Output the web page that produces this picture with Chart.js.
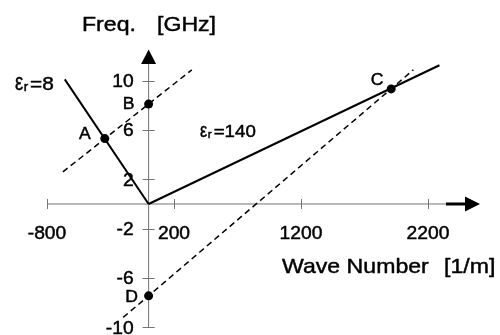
<!DOCTYPE html>
<html>
<head>
<meta charset="utf-8">
<script src="https://cdn.jsdelivr.net/npm/chart.js@4"></script>
<style>
  body { margin: 0; background: #fff; }
  #wrap { width: 500px; height: 335px; }
</style>
</head>
<body>
<div id="wrap"><canvas id="myChart"></canvas></div>
<script>
// values (wave number [1/m], frequency [GHz])
const er8K = [-660, 0];
const er8F = [10.1, 0];
const er140K = [0, 2290];
const er140F = [0, 11.25];
const lineAB_K = [-675, 340];
const lineAB_F = [2.6, 10.88];
const lineDC_K = [-200, 2085];
const lineDC_F = [-9.2, 10.88];
const pointNames = ['A', 'B', 'C', 'D'];
const pointK = [-345, 0, 1910, 0];
const pointF = [5.3, 8.1, 9.33, -7.45];
const xTicks = [-800, 200, 1200, 2200];
const yTicks = [10, 6, 2, -2, -6, -10];

const FONT = 'Arial, "Liberation Sans", sans-serif';
const AXIS = '#747474';
const SX = 1.1; // the original text looks a bit stretched sideways

const toXY = (xs, ys) => xs.map((x, i) => ({x: x, y: ys[i]}));

function text(ctx, str, x, y, size, align, sx) {
  ctx.save();
  ctx.font = size + 'px ' + FONT;
  ctx.textAlign = align || 'left';
  ctx.textBaseline = 'alphabetic';
  ctx.translate(x, y);
  ctx.scale(sx || SX, 1);
  ctx.lineWidth = 0.45;
  ctx.strokeStyle = '#000';
  ctx.fillText(str, 0, 0);
  ctx.strokeText(str, 0, 0);
  ctx.restore();
}

// tall narrow epsilon with a small r, then the rest
function epsLabel(ctx, x, y, rest, size) {
  const es = Math.round(size * 1.2), rs = Math.round(size * 0.65);
  ctx.save();
  ctx.font = es + 'px ' + FONT;
  const we = ctx.measureText('\u03b5').width * 0.8;
  ctx.font = rs + 'px ' + FONT;
  const wr = ctx.measureText('r').width * SX;
  ctx.restore();
  text(ctx, '\u03b5', x, y, es, 'left', 0.8);
  text(ctx, 'r', x + we + 0.5, y + 1, rs);
  text(ctx, rest, x + we + wr + 2.5, y, size);
}

const axesPlugin = {
  id: 'crossAxes',
  beforeDatasetsDraw(chart) {
    const ctx = chart.ctx;
    const xs = chart.scales.x, ys = chart.scales.y;
    const x0 = xs.getPixelForValue(0), y0 = ys.getPixelForValue(0);
    const left = xs.getPixelForValue(-800);
    const bottom = ys.getPixelForValue(-10);
    ctx.save();
    ctx.strokeStyle = AXIS;
    ctx.lineWidth = 1;
    ctx.beginPath();
    ctx.moveTo(left, y0); ctx.lineTo(446, y0);
    ctx.moveTo(x0, bottom); ctx.lineTo(x0, 64);
    xTicks.forEach(v => {
      const px = Math.round(xs.getPixelForValue(v)) + 0.5;
      ctx.moveTo(px, y0 - 5); ctx.lineTo(px, y0 + 5);
    });
    yTicks.forEach(v => {
      const py = Math.round(ys.getPixelForValue(v)) + 0.5;
      ctx.moveTo(x0 - 6, py); ctx.lineTo(x0 + 6, py);
    });
    ctx.stroke();
    // arrows
    ctx.fillStyle = '#000';
    ctx.strokeStyle = '#000';
    ctx.lineWidth = 3;
    ctx.beginPath();
    ctx.moveTo(446, y0); ctx.lineTo(466, y0);
    ctx.stroke();
    ctx.beginPath();
    ctx.moveTo(465, y0 - 7.5); ctx.lineTo(480, y0); ctx.lineTo(465, y0 + 7.5);
    ctx.closePath(); ctx.fill();
    ctx.beginPath();
    ctx.moveTo(x0 - 7.5, 64); ctx.lineTo(x0, 49.5); ctx.lineTo(x0 + 7.5, 64);
    ctx.closePath(); ctx.fill();
    ctx.restore();
  },
  afterDatasetsDraw(chart) {
    const ctx = chart.ctx;
    const xs = chart.scales.x, ys = chart.scales.y;
    const x0 = xs.getPixelForValue(0), y0 = ys.getPixelForValue(0);
    ctx.save();
    ctx.fillStyle = '#000';
    xTicks.forEach(v => {
      text(ctx, String(v), xs.getPixelForValue(v), y0 + 35, 17.5, 'center');
    });
    yTicks.forEach(v => {
      text(ctx, String(v), x0 - 15, ys.getPixelForValue(v) + 6.3, 17.5, 'right');
    });
    // axis titles
    text(ctx, 'Freq.', 82, 31, 21);
    text(ctx, '[GHz]', 157, 31, 21);
    text(ctx, 'Wave Number', 282, 273, 21);
    text(ctx, '[1/m]', 444, 273, 21);
    // curve labels
    epsLabel(ctx, 15, 90, '=8', 19);
    epsLabel(ctx, 200, 136.5, '=140', 17);
    // point labels
    const offs = [[-20, -5], [-20, -1], [-14, -10], [-17, 0]];
    pointNames.forEach((n, i) => {
      const px = xs.getPixelForValue(pointK[i]) + offs[i][0];
      const py = ys.getPixelForValue(pointF[i]) + offs[i][1] + 5.7;
      text(ctx, n, px, py, 16, 'center');
    });
    ctx.restore();
  }
};

const solid = {borderColor: '#000', borderWidth: 2, pointRadius: 0, showLine: true, fill: false};
const dashed = {borderColor: '#000', borderWidth: 1.5, borderDash: [6, 4], pointRadius: 0, showLine: true, fill: false};

const data = {
  datasets: [
    Object.assign({label: 'er8', data: toXY(er8K, er8F)}, solid),
    Object.assign({label: 'er140', data: toXY(er140K, er140F)}, solid),
    Object.assign({label: 'AB', data: toXY(lineAB_K, lineAB_F)}, dashed),
    Object.assign({label: 'DC', data: toXY(lineDC_K, lineDC_F)}, dashed),
    {
      label: 'points',
      data: toXY(pointK, pointF),
      showLine: false,
      pointRadius: 4.5,
      pointBackgroundColor: '#000',
      pointBorderColor: '#000',
      pointBorderWidth: 0
    }
  ]
};

const config = {
  type: 'scatter',
  data,
  options: {
    responsive: true,
    maintainAspectRatio: false,
    animation: false,
    clip: false,
    layout: {
      padding: {left: 47, right: 21.2, top: 52.3, bottom: 7.7}
    },
    plugins: {
      legend: {display: false},
      tooltip: {enabled: false}
    },
    scales: {
      x: {type: 'linear', min: -800, max: 2600, display: false},
      y: {type: 'linear', min: -10, max: 12.3, display: false}
    }
  },
  plugins: [axesPlugin]
};

const myChart = new Chart(document.getElementById('myChart'), config);
</script>
</body>
</html>
